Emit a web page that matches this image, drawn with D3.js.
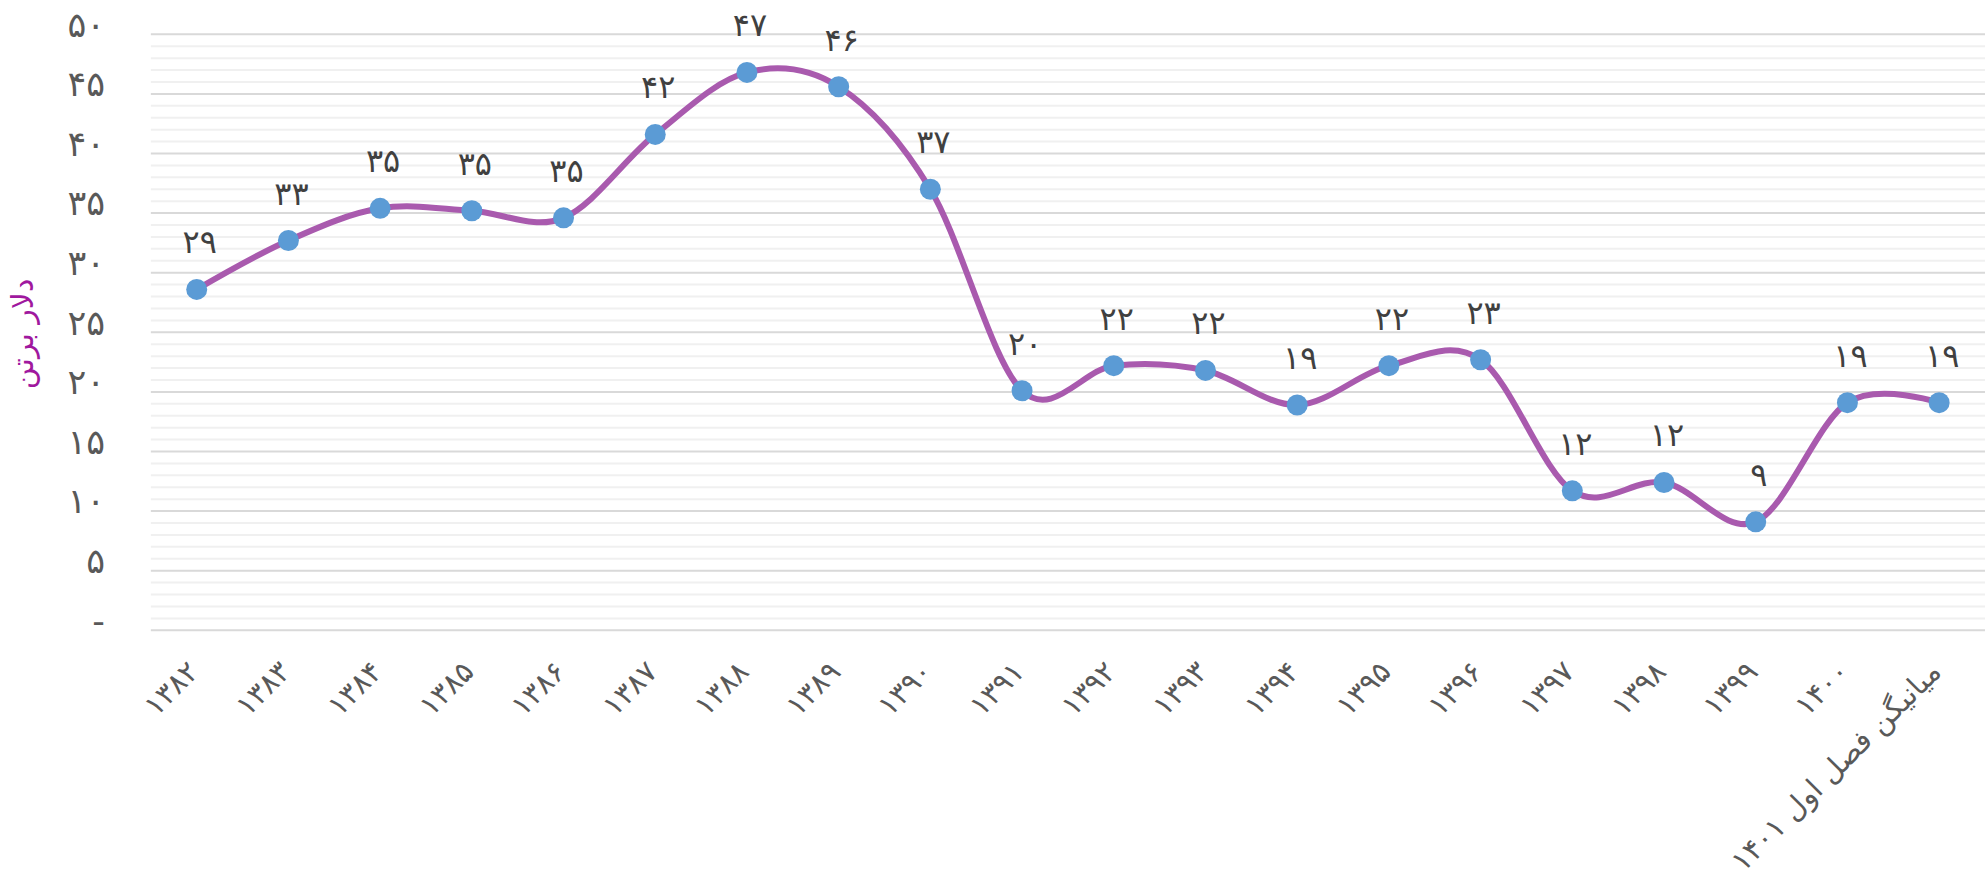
<!DOCTYPE html>
<html><head><meta charset="utf-8">
<script src="https://cdn.jsdelivr.net/npm/d3@7"></script>
<style>
html,body{margin:0;padding:0;background:#fff;}
svg{display:block;}
text{font-family:"DejaVu Sans","Noto Sans",sans-serif;}
</style></head>
<body>
<svg id="c" width="1985" height="888"></svg>
<script>
const categories = ["1382","1383","1384","1385","1386","1387","1388","1389","1390","1391","1392","1393","1394","1395","1396","1397","1398","1399","1400","میانیگن فصل اول 1401"];
const values = [28.6,32.7,35.4,35.2,34.6,41.6,46.8,45.6,37.0,20.1,22.2,21.8,18.9,22.2,22.7,11.7,12.4,9.1,19.1,19.1];
const dataLabels = [29,33,35,35,35,42,47,46,37,20,22,22,19,22,23,12,12,9,19,19];
const yTicks = [0,5,10,15,20,25,30,35,40,45,50];
const yTitle = "دلار برتن";

const fa = s => String(s).replace(/[0-9]/g, d => "۰۱۲۳۴۵۶۷۸۹"[+d]);

const W = 1985, H = 888;
const pLeft = 150.85, pRight = 1985, pTop = 34.3, pBottom = 630.3;
const svg = d3.select("#c");

const x = d3.scalePoint().domain(categories).range([pLeft, pRight]).padding(0.5);
const y = d3.scaleLinear().domain([0,50]).range([pBottom, pTop]);

// minor gridlines
const minor = d3.range(0, 51, 1).filter(v => v % 5 !== 0);
svg.append("g").selectAll("line").data(minor).join("line")
  .attr("x1", pLeft).attr("x2", pRight)
  .attr("y1", d => y(d)).attr("y2", d => y(d))
  .attr("stroke", "#F0F0F0").attr("stroke-width", 2);
// major gridlines
svg.append("g").selectAll("line").data(yTicks).join("line")
  .attr("x1", pLeft).attr("x2", pRight)
  .attr("y1", d => y(d)).attr("y2", d => y(d))
  .attr("stroke", "#D9D9D9").attr("stroke-width", 2);

// y axis labels
const yAxis = d3.axisLeft(y).tickValues(yTicks).tickSize(0).tickPadding(0)
  .tickFormat(d => d === 0 ? "-" : fa(d));
const yg = svg.append("g").attr("transform", `translate(105,0)`).call(yAxis);
yg.select(".domain").remove();
yg.selectAll("text").attr("font-size", 35).attr("fill", "#595959")
  .attr("font-family", '"DejaVu Sans",sans-serif').attr("dy", "0.05em");

// y title
svg.append("text").attr("transform", "translate(22,334) rotate(-90)")
  .attr("text-anchor", "middle").attr("dominant-baseline", "central")
  .attr("font-size", 30).attr("fill", "#A0189E").text(yTitle);

// x axis labels
const xAxis = d3.axisBottom(x).tickSize(0).tickPadding(0).tickFormat(d => fa(d));
const xg = svg.append("g").attr("transform", `translate(0,${pBottom})`).call(xAxis);
xg.select(".domain").remove();
xg.selectAll("text")
  .attr("font-size", 29).attr("fill", "#595959")
  .attr("text-anchor", "end")
  .attr("transform", "translate(-4,36) rotate(-45)")
  .attr("x", 0).attr("y", 0).attr("dy", "0.35em");

// line
const pts = categories.map((c,i) => [x(c), y(values[i])]);
svg.append("path").attr("d", d3.line().curve(d3.curveCatmullRom.alpha(0))(pts))
  .attr("fill", "none").attr("stroke", "#A95AAE").attr("stroke-width", 6)
  .attr("stroke-linecap", "round");

// markers
svg.append("g").selectAll("circle").data(categories).join("circle")
  .attr("cx", d => x(d)).attr("cy", (d,i) => y(values[i])).attr("r", 10.5)
  .attr("fill", "#5B9BD5");

// data labels
svg.append("g").selectAll("text").data(categories).join("text")
  .attr("x", d => x(d) + 3).attr("y", (d,i) => y(values[i]) - 47)
  .attr("text-anchor", "middle").attr("dominant-baseline", "central")
  .attr("font-size", 32).attr("fill", "#404040")
  .text((d,i) => fa(dataLabels[i]));
</script>
</body></html>
